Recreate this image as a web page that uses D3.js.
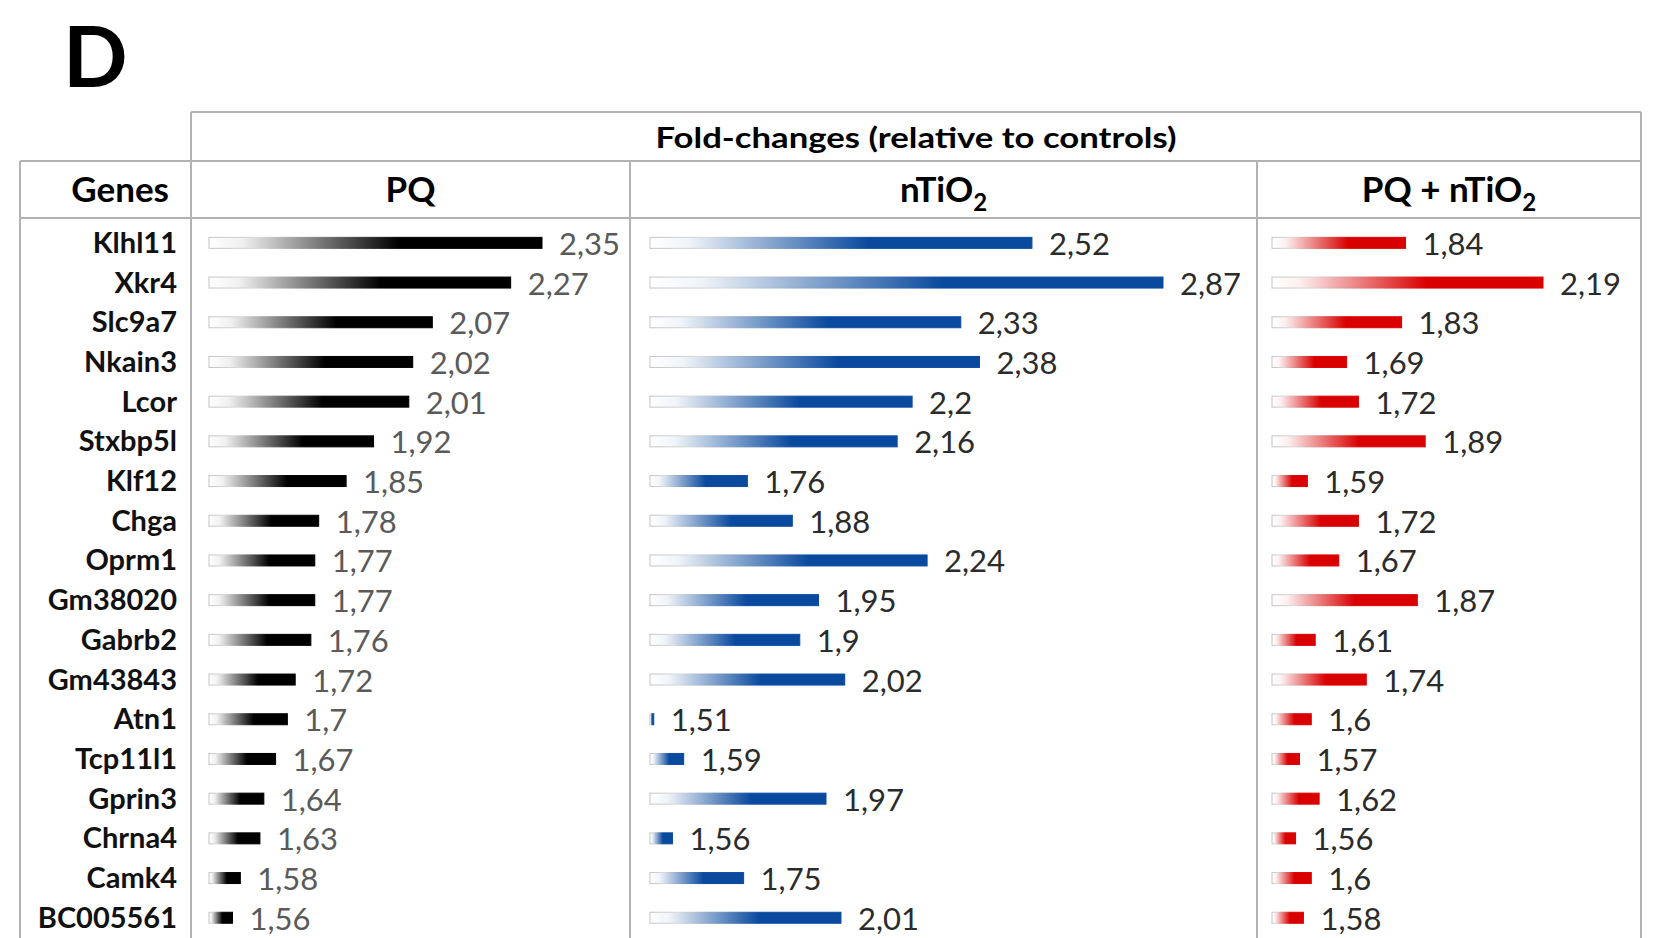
<!DOCTYPE html>
<html>
<head>
<meta charset="utf-8">
<script src="https://cdn.jsdelivr.net/npm/d3@7"></script>
<style>
  body { margin: 0; background: #fff; }
  text { font-family: Lato, "Open Sans", sans-serif; }
</style>
</head>
<body>
<svg id="foldChanges" width="1657" height="938"></svg>
<script>
//Genes (rows of the table)
var genes = ["Klhl11", "Xkr4", "Slc9a7", "Nkain3", "Lcor", "Stxbp5l", "Klf12", "Chga", "Oprm1",
  "Gm38020", "Gabrb2", "Gm43843", "Atn1", "Tcp11l1", "Gprin3", "Chrna4", "Camk4", "BC005561"];

//Fold-changes relative to controls, one array per treatment
var pqValues = [2.35, 2.27, 2.07, 2.02, 2.01, 1.92, 1.85, 1.78, 1.77, 1.77, 1.76, 1.72, 1.7, 1.67, 1.64, 1.63, 1.58, 1.56];
var ntio2Values = [2.52, 2.87, 2.33, 2.38, 2.2, 2.16, 1.76, 1.88, 2.24, 1.95, 1.9, 2.02, 1.51, 1.59, 1.97, 1.56, 1.75, 2.01];
var comboValues = [1.84, 2.19, 1.83, 1.69, 1.72, 1.89, 1.59, 1.72, 1.67, 1.87, 1.61, 1.74, 1.6, 1.57, 1.62, 1.56, 1.6, 1.58];

var svg = d3.select("svg#foldChanges");
var width = +svg.attr("width"),
    height = +svg.attr("height");

var lineColor = "#b3b3b3";
var gridX = { left: 20, genes: 191, pq: 630, ntio2: 1257, right: 1641 };
var gridY = { top: 112, mid: 161, head: 218 };

//Columns of the table, each with its own bar scale (like Excel data bars)
var columns = [
  { key: "pq", name: "PQ", values: pqValues, color: "#000000", textColor: "#5a5a5a", x0: gridX.genes, x1: gridX.pq, barX: 209, barLen: 333 },
  { key: "ntio2", name: "nTiO", sub: "2", values: ntio2Values, color: "#0a4a9e", textColor: "#2b2b2b", x0: gridX.pq, x1: gridX.ntio2, barX: 650, barLen: 513 },
  { key: "combo", name: "PQ + nTiO", sub: "2", values: comboValues, color: "#d90000", textColor: "#2b2b2b", x0: gridX.ntio2, x1: gridX.right, barX: 1272, barLen: 271 }
];

//Row positions
var y = d3.scaleBand()
  .domain(genes)
  .range([223, 223 + genes.length * 39.7]);

var defs = svg.append("defs");

//Panel letter
svg.append("text")
    .attr("x", 63)
    .attr("y", 87)
    .style("font-size", "85px")
    .style("font-weight", "bold")
    .text("D");

//Table lines
var lines = [
  [gridX.genes, gridY.top, gridX.right, gridY.top],
  [gridX.left, gridY.mid, gridX.right, gridY.mid],
  [gridX.left, gridY.head, gridX.right, gridY.head],
  [gridX.left, gridY.mid, gridX.left, height],
  [gridX.genes, gridY.top, gridX.genes, height],
  [gridX.pq, gridY.mid, gridX.pq, height],
  [gridX.ntio2, gridY.mid, gridX.ntio2, height],
  [gridX.right, gridY.top, gridX.right, height]
];
svg.append("g")
  .selectAll("line")
  .data(lines)
  .enter().append("line")
    .attr("x1", function (d) { return d[0]; })
    .attr("y1", function (d) { return d[1]; })
    .attr("x2", function (d) { return d[2]; })
    .attr("y2", function (d) { return d[3]; })
    .attr("stroke", lineColor)
    .attr("stroke-width", 2);

//Header texts
svg.append("text")
    .attr("x", (gridX.genes + gridX.right) / 2)
    .attr("y", 148)
    .attr("text-anchor", "middle")
    .attr("textLength", 521)
    .attr("lengthAdjust", "spacingAndGlyphs")
    .style("font-size", "29px")
    .style("font-weight", "bold")
    .text("Fold-changes (relative to controls)");

svg.append("text")
    .attr("x", 169)
    .attr("y", 202)
    .attr("text-anchor", "end")
    .style("font-size", "35px")
    .style("font-weight", "bold")
    .text("Genes");

var heads = svg.append("g")
  .selectAll("text")
  .data(columns)
  .enter().append("text")
    .attr("x", function (d) { return (d.x0 + d.x1) / 2; })
    .attr("y", 202)
    .attr("text-anchor", "middle")
    .style("font-size", "35px")
    .style("font-weight", "bold");
heads.append("tspan").text(function (d) { return d.name; });
heads.filter(function (d) { return d.sub; })
  .append("tspan")
    .attr("dy", 9)
    .style("font-size", "24px")
    .text(function (d) { return d.sub; });

//Gene labels
svg.append("g")
  .selectAll("text")
  .data(genes)
  .enter().append("text")
    .attr("x", 177)
    .attr("y", function (d) { return y(d) + y.bandwidth() / 2 + 10; })
    .attr("text-anchor", "end")
    .style("font-size", "29px")
    .style("font-weight", "bold")
    .style("fill", "#111")
    .text(function (d) { return d; });

var fmt = function (v) { return String(v).replace(".", ","); };
var barH = 11;

columns.forEach(function (col) {
  //Gradient going from white to the full colour (fill) and grey to colour (outline)
  var fillGrad = defs.append("linearGradient").attr("id", "fill-" + col.key);
  fillGrad.append("stop").attr("offset", 0).attr("stop-color", "#ffffff");
  fillGrad.append("stop").attr("offset", 0.1).attr("stop-color", d3.interpolateRgb("#ffffff", col.color)(0.06));
  fillGrad.append("stop").attr("offset", 0.57).attr("stop-color", col.color);
  fillGrad.append("stop").attr("offset", 1).attr("stop-color", col.color);

  var strokeGrad = defs.append("linearGradient").attr("id", "stroke-" + col.key);
  strokeGrad.append("stop").attr("offset", 0).attr("stop-color", "#c4c4c4");
  strokeGrad.append("stop").attr("offset", 0.15).attr("stop-color", "#d8d8d8");
  strokeGrad.append("stop").attr("offset", 0.57).attr("stop-color", col.color);
  strokeGrad.append("stop").attr("offset", 1).attr("stop-color", col.color);

  var x = d3.scaleLinear()
    .domain([1.5, d3.max(col.values)])
    .range([0, col.barLen]);

  var rows = genes.map(function (g, i) { return { gene: g, value: col.values[i] }; });

  var g = svg.append("g").attr("class", "col-" + col.key);

  g.selectAll("rect")
    .data(rows)
    .enter().append("rect")
      .attr("x", col.barX)
      .attr("y", function (d) { return y(d.gene) + y.bandwidth() / 2 - barH / 2; })
      .attr("width", function (d) { return Math.max(x(d.value), 2); })
      .attr("height", barH)
      .attr("fill", "url(#fill-" + col.key + ")")
      .attr("stroke", "url(#stroke-" + col.key + ")")
      .attr("stroke-width", 1);

  g.selectAll("text")
    .data(rows)
    .enter().append("text")
      .attr("x", function (d) { return col.barX + Math.max(x(d.value), 2) + 17; })
      .attr("y", function (d) { return y(d.gene) + y.bandwidth() / 2 + 12; })
      .style("font-size", "31px")
      .style("fill", col.textColor)
      .text(function (d) { return fmt(d.value); });
});
</script>
</body>
</html>
